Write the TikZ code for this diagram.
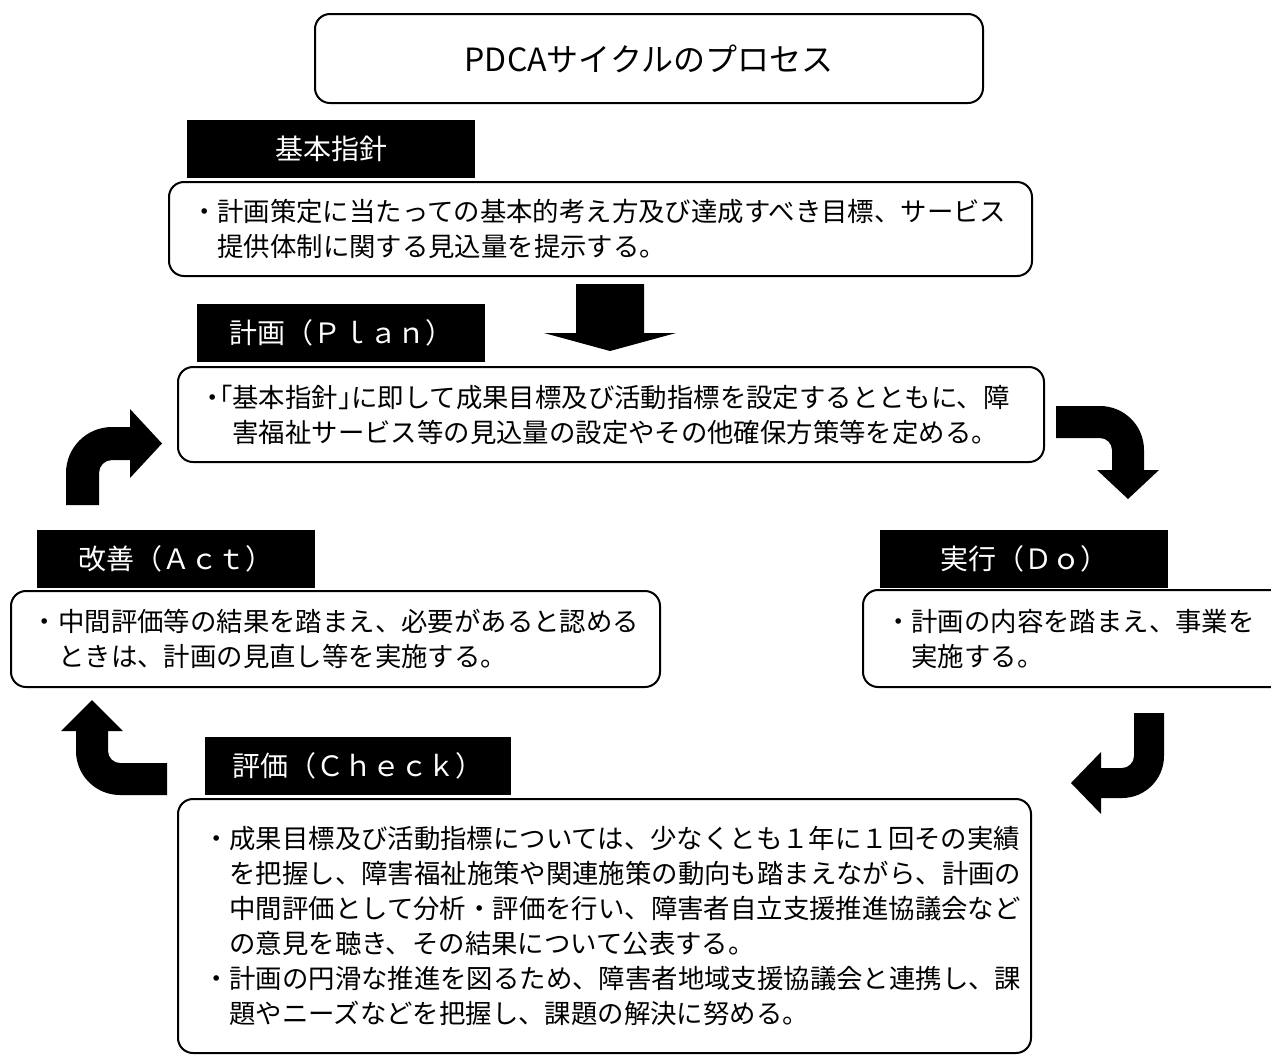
\documentclass[tikz,border=0pt]{standalone}
\usepackage{fontspec}
\setmainfont{Noto Sans CJK JP}
\newcommand{\halfdot}{\makebox[0.5em][c]{・}}
\newcommand{\lbrk}{\makebox[0.5em][r]{「}}
\newcommand{\rbrk}{\makebox[0.5em][l]{」}}
\begin{document}
\begin{tikzpicture}[x=0.5pt,y=-0.5pt,
    textbox/.style={draw,line width=1pt,rounded corners=7.5pt,anchor=north west,align=left,inner ysep=0pt,font=\fontsize{13.2}{17.5}\selectfont},
    tag/.style={fill=black,text=white,minimum height=29pt,inner sep=0pt,font=\fontsize{14}{16}\selectfont},
    bigarrow/.style={fill=black}]
    \useasboundingbox (0,0) rectangle (1271,1057);
    \node[draw,line width=1pt,rounded corners=7.5pt,minimum width=334pt,minimum height=44.5pt,font=\fontsize{16}{18}\selectfont] (title) at (649,58.5) {PDCAサイクルのプロセス};
    % 基本指針
    \node[tag,minimum width=144pt] (kihontag) at (331,149) {基本指針};
    \node[textbox,minimum width=431.5pt,minimum height=47pt,inner xsep=11pt,text width=409.5pt] (kihon) at (168,181)
        {・計画策定に当たっての基本的考え方及び達成すべき目標、サービス\\\hspace*{1em}提供体制に関する見込量を提示する。};
    \fill[bigarrow] (576,284) -- (644,284) -- (644,333) -- (676,333) -- (610,351) -- (544,333) -- (576,333) -- cycle;
    % 計画
    \node[tag,minimum width=144pt] (plantag) at (341,333) {計画（Ｐｌａｎ）};
    \node[textbox,minimum width=433pt,minimum height=47.5pt,inner xsep=14pt,text width=405pt] (plan) at (177,366)
        {\halfdot\lbrk 基本指針\rbrk に即して成果目標及び活動指標を設定するとともに、障\\\hspace*{1em}害福祉サービス等の見込量の設定やその他確保方策等を定める。};
    % 実行
    \node[tag,minimum width=144pt] (dotag) at (1024,558.5) {実行（Ｄｏ）};
    \node[textbox,minimum width=211.5pt,minimum height=48.5pt,inner xsep=11pt,text width=189.5pt] (do) at (862,589)
        {・計画の内容を踏まえ、事業を\\\hspace*{1em}実施する。};
    % 改善
    \node[tag,minimum width=139pt] (acttag) at (176,559) {改善（Ａｃｔ）};
    \node[textbox,minimum width=324.5pt,minimum height=48pt,inner xsep=10.5pt,text width=303.5pt] (act) at (10,590)
        {・中間評価等の結果を踏まえ、必要があると認める\\\hspace*{1em}ときは、計画の見直し等を実施する。};
    % 評価
    \node[tag,minimum width=153pt] (checktag) at (358,766) {評価（Ｃｈｅｃｋ）};
    \node[textbox,minimum width=426.5pt,minimum height=127pt,inner xsep=12.5pt,text width=401.5pt] (check) at (177,798)
        {・成果目標及び活動指標については、少なくとも１年に１回その実績\\
         \hspace*{1em}を把握し、障害福祉施策や関連施策の動向も踏まえながら、計画の\\
         \hspace*{1em}中間評価として分析・評価を行い、障害者自立支援推進協議会など\\
         \hspace*{1em}の意見を聴き、その結果について公表する。\\
         ・計画の円滑な推進を図るため、障害者地域支援協議会と連携し、課\\
         \hspace*{1em}題やニーズなどを把握し、課題の解決に努める。};
    % cycle arrows
    \fill[bigarrow] (1056,406) -- (1100,406) .. controls (1124.3,406) and (1144,425.7) .. (1144,450) -- (1144,470) -- (1159,470)
        -- (1128,499) -- (1097,470) -- (1112,470) -- (1112,450) .. controls (1112,443.4) and (1106.6,438) .. (1100,438) -- (1056,438) -- cycle;
    \fill[bigarrow] (1134,713) -- (1164,713) -- (1164,756) .. controls (1164,779.2) and (1145.2,798) .. (1122,798) -- (1101,798) -- (1101,814)
        -- (1071,783) -- (1101,752) -- (1101,768) -- (1122,768) .. controls (1128.6,768) and (1134,762.6) .. (1134,756) -- cycle;
    \fill[bigarrow] (167,763) -- (120,763) .. controls (113.4,763) and (108,757.6) .. (108,751) -- (108,731) -- (123,731)
        -- (92,700) -- (61,731) -- (76,731) -- (76,751) .. controls (76,775.3) and (95.7,795) .. (120,795) -- (167,795) -- cycle;
    \fill[bigarrow] (66,505) -- (66,473) .. controls (66,447.6) and (86.6,427) .. (112,427) -- (130,427) -- (130,409)
        -- (162,443.5) -- (130,478) -- (130,460) -- (112,460) .. controls (104.8,460) and (99,465.8) .. (99,473) -- (99,505) -- cycle;
\end{tikzpicture}
\end{document}
